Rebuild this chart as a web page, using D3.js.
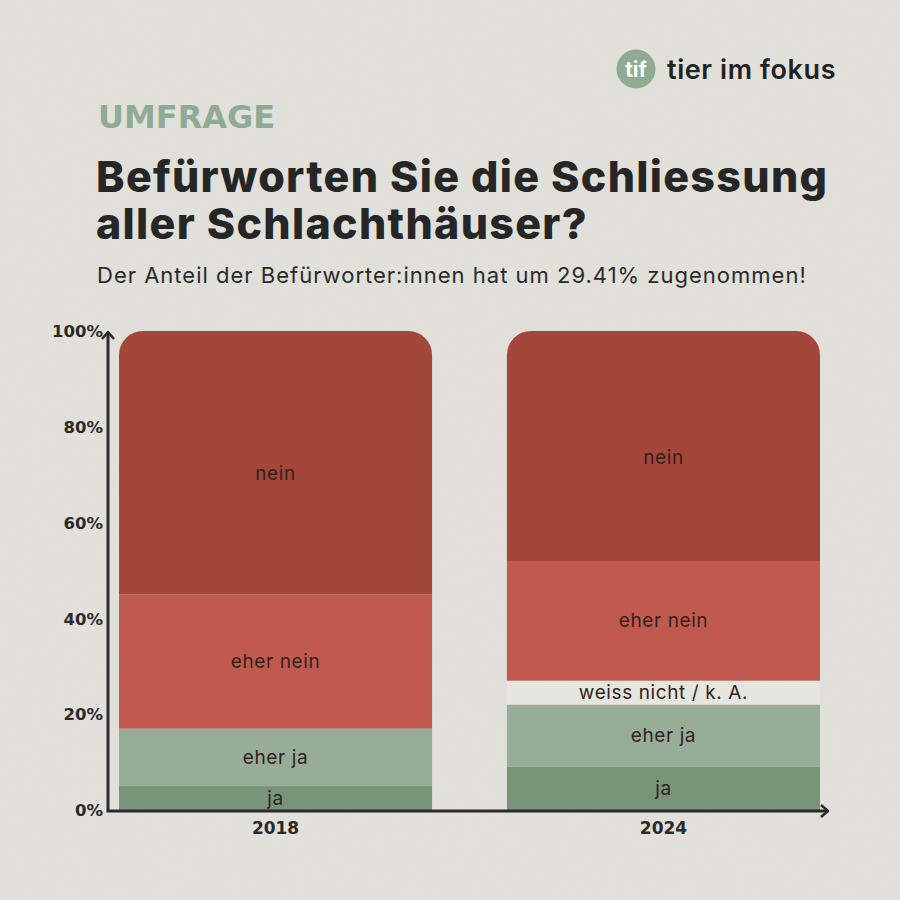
<!DOCTYPE html>
<html><head><meta charset="utf-8">
<script src="https://cdn.jsdelivr.net/npm/d3@7"></script>
<style>html,body{margin:0;padding:0;background:#e2e1db;}svg{display:block;}</style>
</head><body><svg id="c" width="900" height="900"></svg>
<script>
const years = ["2018", "2024"];
const categories = ["ja", "eher ja", "weiss nicht / k. A.", "eher nein", "nein"];
const values2018 = [5, 12, 0, 28, 55];
const values2024 = [9, 13, 5, 25, 48];
const yTicks = [0, 20, 40, 60, 80, 100];
const colors = ["#78957a", "#97ad98", "#e6e6e1", "#c05a4f", "#a3473b"];

const svg = d3.select("#c");
const defs = svg.append("defs");
const f = defs.append("filter").attr("id","noise");
f.append("feTurbulence").attr("type","fractalNoise").attr("baseFrequency",0.9).attr("numOctaves",2).attr("seed",3);
f.append("feColorMatrix").attr("type","matrix").attr("values","0 0 0 0 0.45  0 0 0 0 0.45  0 0 0 0 0.42  0 0 0 0.10 0");
svg.append("rect").attr("width",900).attr("height",900).attr("fill","#e2e1db");
svg.append("rect").attr("width",900).attr("height",900).attr("filter","url(#noise)").attr("opacity",0.6);

// logo
svg.append("circle").attr("cx",636).attr("cy",69).attr("r",19.5).attr("fill","#8fab94");
svg.append("text").attr("x",636).attr("y",77).attr("text-anchor","middle").attr("fill","#fff")
  .attr("font-family","Inter, sans-serif").attr("font-weight",700).attr("font-size",21).text("tif");
svg.append("text").attr("x",667).attr("y",79).attr("fill","#222")
  .attr("font-family","Inter, sans-serif").attr("font-weight",600).attr("font-size",27).attr("letter-spacing",0.6).text("tier im fokus");

// headings
svg.append("text").attr("x",98).attr("y",128).attr("fill","#8fab94")
  .attr("font-family","'DejaVu Sans', sans-serif").attr("font-weight",700).attr("font-size",32).attr("letter-spacing",0).text("UMFRAGE");
svg.append("text").attr("x",96).attr("y",192).attr("fill","#262626")
  .attr("font-family","Inter, sans-serif").attr("font-weight",800).attr("font-size",43).attr("letter-spacing",1.3)
  .text("Befürworten Sie die Schliessung");
svg.append("text").attr("x",96).attr("y",239).attr("fill","#262626")
  .attr("font-family","Inter, sans-serif").attr("font-weight",800).attr("font-size",43).attr("letter-spacing",1.3)
  .text("aller Schlachthäuser?");
svg.append("text").attr("x",97).attr("y",283).attr("fill","#2a2a2a")
  .attr("font-family","Inter, sans-serif").attr("font-weight",400).attr("font-size",22).attr("letter-spacing",1.0)
  .text("Der Anteil der Befürworter:innen hat um 29.41% zugenommen!");

// scales
const y = d3.scaleLinear().domain([0,100]).range([810,331]);
const x = d3.scaleBand().domain(years).range([119,820]).paddingInner(0.193).paddingOuter(0);
const data = [values2018, values2024];
const R = 24;

years.forEach((yr, i) => {
  const vals = data[i];
  let cum = 0;
  const segs = vals.map((v, k) => { const s = {k, y0: cum, y1: cum + v, v}; cum += v; return s; });
  const x0 = x(yr), w = x.bandwidth();
  const g = svg.append("g");
  segs.forEach(s => {
    if (s.v <= 0) return;
    const top = y(s.y1), bot = y(s.y0);
    if (s.k === categories.length - 1) {
      const p = d3.path();
      p.moveTo(x0, bot); p.lineTo(x0, top + R); p.arcTo(x0, top, x0 + R, top, R);
      p.lineTo(x0 + w - R, top); p.arcTo(x0 + w, top, x0 + w, top + R, R);
      p.lineTo(x0 + w, bot); p.closePath();
      g.append("path").attr("d", p.toString()).attr("fill", colors[s.k]);
    } else {
      g.append("rect").attr("x", x0).attr("y", top).attr("width", w).attr("height", bot - top).attr("fill", colors[s.k]);
    }
    const extra = s.k === categories.length - 1 ? 11 : 0;
    g.append("text").attr("x", x0 + w/2).attr("y", (top + bot)/2 + extra).attr("dy","0.35em")
      .attr("text-anchor","middle").attr("fill","#33211f")
      .attr("font-family","Inter, sans-serif").attr("font-size",19).attr("letter-spacing",0.6).text(categories[s.k]);
  });
});

// axes
const yAxis = d3.axisLeft(y).tickValues(yTicks).tickSize(0).tickPadding(5).tickFormat(d => d + "%");
const ya = svg.append("g").attr("transform","translate(108,0)").call(yAxis);
ya.select(".domain").remove();
ya.selectAll("text").attr("font-family","'DejaVu Sans', sans-serif").attr("font-weight",700).attr("font-size",16.5).attr("fill","#2a2a2a").attr("dy","0.35em");

const xAxis = d3.axisBottom(x).tickSize(0).tickPadding(12);
const xa = svg.append("g").attr("transform","translate(0,810)").call(xAxis);
xa.select(".domain").remove();
xa.selectAll("text").attr("font-family","'DejaVu Sans', sans-serif").attr("font-weight",700).attr("font-size",17).attr("fill","#2a2a2a");

const axisCol = "#2b2b2b";
svg.append("path").attr("d","M108,332 L108,811 L828,811").attr("fill","none").attr("stroke",axisCol).attr("stroke-width",3);
svg.append("path").attr("d","M102,339 L108,332 L114,339").attr("fill","none").attr("stroke",axisCol).attr("stroke-width",2.5).attr("stroke-linejoin","round");
svg.append("path").attr("d","M821,805 L828,811 L821,817").attr("fill","none").attr("stroke",axisCol).attr("stroke-width",2.5).attr("stroke-linejoin","round");
</script></body></html>
